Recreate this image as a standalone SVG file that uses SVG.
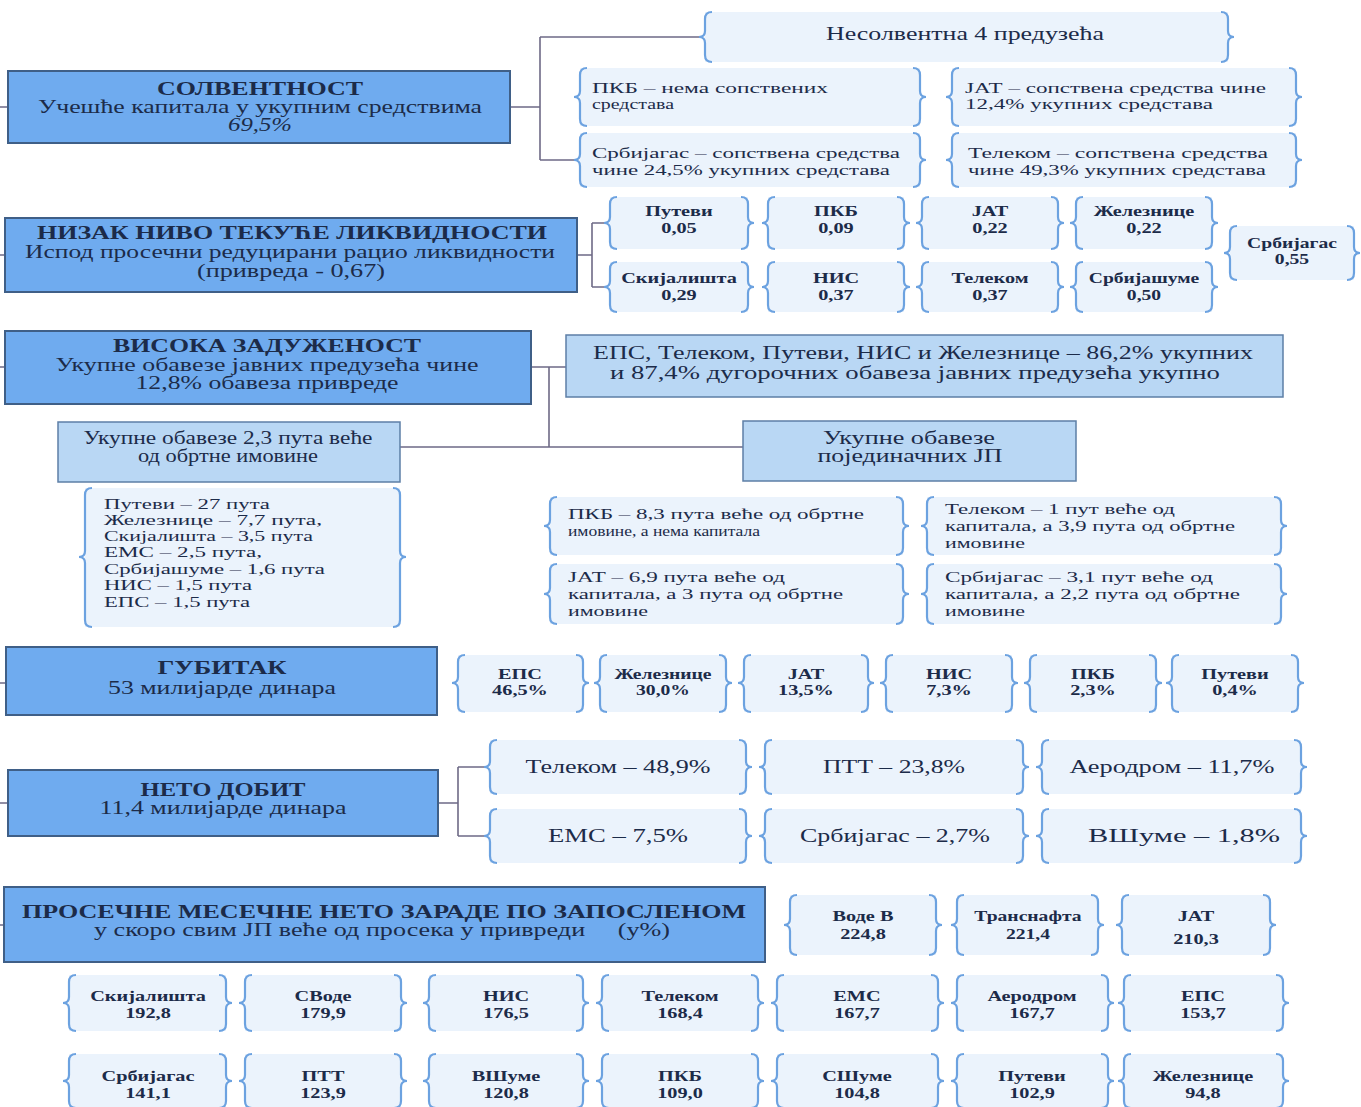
<svg xmlns="http://www.w3.org/2000/svg" width="1361" height="1107" viewBox="0 0 1361 1107">
<style>
.main{fill:#6FABEF;stroke:#3F5F87;stroke-width:2}
.sub{fill:#B9D7F4;stroke:#5D7FA6;stroke-width:1.5}
.bb{fill:#EBF3FC}
.br{fill:none;stroke:#6CA2E0;stroke-width:2.2}
.con{fill:none;stroke:#6E6A86;stroke-width:1.6}
text{font-family:"Liberation Serif","Times New Roman",serif;fill:#1C2B49}
.h{font-size:19px;font-weight:bold;text-anchor:middle}
.s{font-size:18px;text-anchor:middle}
.l{font-size:15px}
.v{font-size:14px;font-weight:bold;text-anchor:middle}
</style>
<rect width="1361" height="1107" fill="#FFFFFF"/>
<g id="connectors" class="con">
<path d="M0,107H8M0,255H5M0,367H5M0,683H6M0,803H8M0,925H4"/>
<path d="M510,107H540M540,37V160M540,37H699M540,160H574"/>
<path d="M577,255H592M592,223V287M592,223H604M592,287H604"/>
<path d="M531,367H566M549,367V447M400,447H743"/>
<path d="M438,803H458M458,767V836M458,767H484M458,836H484"/>
</g>
<g id="solventnost"><rect class="main" x="8" y="71" width="502" height="72"/>
<text class="h" x="260" y="95" textLength="206" lengthAdjust="spacingAndGlyphs">СОЛВЕНТНОСТ</text>
<text class="s" x="260" y="113" textLength="444" lengthAdjust="spacingAndGlyphs">Учешће капитала у укупним средствима</text>
<text class="s" x="260" y="131" font-style="italic" textLength="64" lengthAdjust="spacingAndGlyphs">69,5%</text></g>
<g id="nesolventna"><rect class="bb" x="705" y="12" width="523" height="50"/><path class="br" d="M712,12Q705,12 705,19V31Q705,37 699,37Q705,37 705,43V55Q705,62 712,62M1221,12Q1228,12 1228,19V31Q1228,37 1234,37Q1228,37 1228,43V55Q1228,62 1221,62"/>
<text class="s" x="965" y="40" font-size="17" textLength="278" lengthAdjust="spacingAndGlyphs">Несолвентна 4 предузећа</text></g>
<g id="pkb-solv"><rect class="bb" x="580" y="68" width="340" height="58"/><path class="br" d="M587,68Q580,68 580,75V91Q580,97 574,97Q580,97 580,103V119Q580,126 587,126M913,68Q920,68 920,75V91Q920,97 926,97Q920,97 920,103V119Q920,126 913,126"/>
<text class="l" x="592" y="93" textLength="236" lengthAdjust="spacingAndGlyphs">ПКБ – нема сопствених</text>
<text class="l" x="592" y="109" textLength="82" lengthAdjust="spacingAndGlyphs">средстава</text></g>
<g id="jat-solv"><rect class="bb" x="952" y="68" width="344" height="58"/><path class="br" d="M959,68Q952,68 952,75V91Q952,97 946,97Q952,97 952,103V119Q952,126 959,126M1289,68Q1296,68 1296,75V91Q1296,97 1302,97Q1296,97 1296,103V119Q1296,126 1289,126"/>
<text class="l" x="965" y="93" textLength="301" lengthAdjust="spacingAndGlyphs">ЈАТ – сопствена средства чине</text>
<text class="l" x="965" y="109" textLength="248" lengthAdjust="spacingAndGlyphs">12,4% укупних средстава</text></g>
<g id="srbijagas-solv"><rect class="bb" x="580" y="133" width="340" height="54"/><path class="br" d="M587,133Q580,133 580,140V154Q580,160 574,160Q580,160 580,166V180Q580,187 587,187M913,133Q920,133 920,140V154Q920,160 926,160Q920,160 920,166V180Q920,187 913,187"/>
<text class="l" x="592" y="158" textLength="308" lengthAdjust="spacingAndGlyphs">Србијагас – сопствена средства</text>
<text class="l" x="592" y="175" textLength="298" lengthAdjust="spacingAndGlyphs">чине 24,5% укупних средстава</text></g>
<g id="telekom-solv"><rect class="bb" x="952" y="133" width="344" height="54"/><path class="br" d="M959,133Q952,133 952,140V154Q952,160 946,160Q952,160 952,166V180Q952,187 959,187M1289,133Q1296,133 1296,140V154Q1296,160 1302,160Q1296,160 1296,166V180Q1296,187 1289,187"/>
<text class="l" x="968" y="158" textLength="300" lengthAdjust="spacingAndGlyphs">Телеком – сопствена средства</text>
<text class="l" x="968" y="175" textLength="298" lengthAdjust="spacingAndGlyphs">чине 49,3% укупних средстава</text></g>

<g id="likvidnost"><rect class="main" x="5" y="218" width="572" height="74"/>
<text class="h" x="292" y="239" textLength="510" lengthAdjust="spacingAndGlyphs">НИЗАК НИВО ТЕКУЋЕ ЛИКВИДНОСТИ</text>
<text class="s" x="290" y="258" textLength="530" lengthAdjust="spacingAndGlyphs">Испод просечни редуцирани рацио ликвидности</text>
<text class="s" x="291" y="277" textLength="188" lengthAdjust="spacingAndGlyphs">(привреда - 0,67)</text></g>
<g id="liq-putevi"><rect class="bb" x="610" y="197" width="138" height="52"/><path class="br" d="M617,197Q610,197 610,204V217Q610,223 604,223Q610,223 610,229V242Q610,249 617,249M741,197Q748,197 748,204V217Q748,223 754,223Q748,223 748,229V242Q748,249 741,249"/>
<g transform="matrix(1.45,0,0,1,-305.55,0)"><text class="v" x="679" y="216">Путеви</text><text class="v" x="679" y="233">0,05</text></g></g>
<g id="liq-pkb"><rect class="bb" x="768" y="197" width="136" height="52"/><path class="br" d="M775,197Q768,197 768,204V217Q768,223 762,223Q768,223 768,229V242Q768,249 775,249M897,197Q904,197 904,204V217Q904,223 910,223Q904,223 904,229V242Q904,249 897,249"/>
<g transform="matrix(1.45,0,0,1,-376.2,0)"><text class="v" x="836" y="216">ПКБ</text><text class="v" x="836" y="233">0,09</text></g></g>
<g id="liq-jat"><rect class="bb" x="922" y="197" width="136" height="52"/><path class="br" d="M929,197Q922,197 922,204V217Q922,223 916,223Q922,223 922,229V242Q922,249 929,249M1051,197Q1058,197 1058,204V217Q1058,223 1064,223Q1058,223 1058,229V242Q1058,249 1051,249"/>
<g transform="matrix(1.45,0,0,1,-445.5,0)"><text class="v" x="990" y="216">ЈАТ</text><text class="v" x="990" y="233">0,22</text></g></g>
<g id="liq-zeleznice"><rect class="bb" x="1076" y="197" width="136" height="52"/><path class="br" d="M1083,197Q1076,197 1076,204V217Q1076,223 1070,223Q1076,223 1076,229V242Q1076,249 1083,249M1205,197Q1212,197 1212,204V217Q1212,223 1218,223Q1212,223 1212,229V242Q1212,249 1205,249"/>
<g transform="matrix(1.45,0,0,1,-514.8,0)"><text class="v" x="1144" y="216">Железнице</text><text class="v" x="1144" y="233">0,22</text></g></g>
<g id="liq-skijalista"><rect class="bb" x="610" y="262" width="138" height="50"/><path class="br" d="M617,262Q610,262 610,269V281Q610,287 604,287Q610,287 610,293V305Q610,312 617,312M741,262Q748,262 748,269V281Q748,287 754,287Q748,287 748,293V305Q748,312 741,312"/>
<g transform="matrix(1.45,0,0,1,-305.55,0)"><text class="v" x="679" y="283">Скијалишта</text><text class="v" x="679" y="300">0,29</text></g></g>
<g id="liq-nis"><rect class="bb" x="768" y="262" width="136" height="50"/><path class="br" d="M775,262Q768,262 768,269V281Q768,287 762,287Q768,287 768,293V305Q768,312 775,312M897,262Q904,262 904,269V281Q904,287 910,287Q904,287 904,293V305Q904,312 897,312"/>
<g transform="matrix(1.45,0,0,1,-376.2,0)"><text class="v" x="836" y="283">НИС</text><text class="v" x="836" y="300">0,37</text></g></g>
<g id="liq-telekom"><rect class="bb" x="922" y="262" width="136" height="50"/><path class="br" d="M929,262Q922,262 922,269V281Q922,287 916,287Q922,287 922,293V305Q922,312 929,312M1051,262Q1058,262 1058,269V281Q1058,287 1064,287Q1058,287 1058,293V305Q1058,312 1051,312"/>
<g transform="matrix(1.45,0,0,1,-445.5,0)"><text class="v" x="990" y="283">Телеком</text><text class="v" x="990" y="300">0,37</text></g></g>
<g id="liq-srbijasume"><rect class="bb" x="1076" y="262" width="136" height="50"/><path class="br" d="M1083,262Q1076,262 1076,269V281Q1076,287 1070,287Q1076,287 1076,293V305Q1076,312 1083,312M1205,262Q1212,262 1212,269V281Q1212,287 1218,287Q1212,287 1212,293V305Q1212,312 1205,312"/>
<g transform="matrix(1.4,0,0,1,-457.6,0)"><text class="v" x="1144" y="283">Србијашуме</text><text class="v" x="1144" y="300">0,50</text></g></g>
<g id="liq-srbijagas"><rect class="bb" x="1230" y="226" width="124" height="54"/><path class="br" d="M1237,226Q1230,226 1230,233V247Q1230,253 1224,253Q1230,253 1230,259V273Q1230,280 1237,280M1347,226Q1354,226 1354,233V247Q1354,253 1360,253Q1354,253 1354,259V273Q1354,280 1347,280"/>
<g transform="matrix(1.4,0,0,1,-516.8,0)"><text class="v" x="1292" y="248">Србијагас</text><text class="v" x="1292" y="264">0,55</text></g></g>

<g id="zaduzenost"><rect class="main" x="5" y="331" width="526" height="73"/>
<text class="h" x="267" y="352" textLength="308" lengthAdjust="spacingAndGlyphs">ВИСОКА ЗАДУЖЕНОСТ</text>
<text class="s" x="267" y="371" textLength="423" lengthAdjust="spacingAndGlyphs">Укупне обавезе јавних предузећа чине</text>
<text class="s" x="267" y="389" textLength="263" lengthAdjust="spacingAndGlyphs">12,8% обавеза привреде</text></g>
<g id="eps-telekom"><rect class="sub" x="566" y="335" width="717" height="62"/>
<text class="s" x="923" y="359" textLength="660" lengthAdjust="spacingAndGlyphs">ЕПС, Телеком, Путеви, НИС и Железнице – 86,2% укупних</text>
<text class="s" x="915" y="379" textLength="610" lengthAdjust="spacingAndGlyphs">и 87,4% дугорочних обавеза јавних предузећа укупно</text></g>
<g id="obaveze-2-3"><rect class="sub" x="58" y="422" width="342" height="60"/>
<text class="s" x="228" y="444" textLength="289" lengthAdjust="spacingAndGlyphs">Укупне обавезе 2,3 пута веће</text>
<text class="s" x="228" y="462" textLength="180" lengthAdjust="spacingAndGlyphs">од обртне имовине</text></g>
<g id="obaveze-pojedinacnih"><rect class="sub" x="743" y="421" width="333" height="60"/>
<text class="s" x="909" y="444" textLength="172" lengthAdjust="spacingAndGlyphs">Укупне обавезе</text>
<text class="s" x="910" y="462" textLength="185" lengthAdjust="spacingAndGlyphs">појединачних ЈП</text></g>
<g id="lista-puta"><rect class="bb" x="85" y="488" width="315" height="139"/><path class="br" d="M92,488Q85,488 85,495V551Q85,557 79,557Q85,557 85,563V620Q85,627 92,627M393,488Q400,488 400,495V551Q400,557 406,557Q400,557 400,563V620Q400,627 393,627"/>
<text class="l" x="104" y="509" textLength="166" lengthAdjust="spacingAndGlyphs">Путеви – 27 пута</text>
<text class="l" x="104" y="525" textLength="218" lengthAdjust="spacingAndGlyphs">Железнице – 7,7 пута,</text>
<text class="l" x="104" y="541" textLength="209" lengthAdjust="spacingAndGlyphs">Скијалишта – 3,5 пута</text>
<text class="l" x="104" y="557" textLength="158" lengthAdjust="spacingAndGlyphs">ЕМС – 2,5 пута,</text>
<text class="l" x="104" y="574" textLength="221" lengthAdjust="spacingAndGlyphs">Србијашуме – 1,6 пута</text>
<text class="l" x="104" y="590" textLength="148" lengthAdjust="spacingAndGlyphs">НИС – 1,5 пута</text>
<text class="l" x="104" y="607" textLength="146" lengthAdjust="spacingAndGlyphs">ЕПС – 1,5 пута</text></g>
<g id="pkb-obaveze"><rect class="bb" x="550" y="497" width="353" height="58"/><path class="br" d="M557,497Q550,497 550,504V520Q550,526 544,526Q550,526 550,532V548Q550,555 557,555M896,497Q903,497 903,504V520Q903,526 909,526Q903,526 903,532V548Q903,555 896,555"/>
<text class="l" x="568" y="519" textLength="296" lengthAdjust="spacingAndGlyphs">ПКБ – 8,3 пута веће од обртне</text>
<text class="l" x="568" y="536" textLength="192" lengthAdjust="spacingAndGlyphs">имовине, а нема капитала</text></g>
<g id="telekom-obaveze"><rect class="bb" x="927" y="497" width="354" height="58"/><path class="br" d="M934,497Q927,497 927,504V520Q927,526 921,526Q927,526 927,532V548Q927,555 934,555M1274,497Q1281,497 1281,504V520Q1281,526 1287,526Q1281,526 1281,532V548Q1281,555 1274,555"/>
<text class="l" x="945" y="514" textLength="230" lengthAdjust="spacingAndGlyphs">Телеком – 1 пут веће од</text>
<text class="l" x="945" y="531" textLength="290" lengthAdjust="spacingAndGlyphs">капитала, а 3,9 пута од обртне</text>
<text class="l" x="945" y="548" textLength="80" lengthAdjust="spacingAndGlyphs">имовине</text></g>
<g id="jat-obaveze"><rect class="bb" x="550" y="564" width="353" height="60"/><path class="br" d="M557,564Q550,564 550,571V588Q550,594 544,594Q550,594 550,600V617Q550,624 557,624M896,564Q903,564 903,571V588Q903,594 909,594Q903,594 903,600V617Q903,624 896,624"/>
<text class="l" x="568" y="582" textLength="217" lengthAdjust="spacingAndGlyphs">ЈАТ – 6,9 пута веће од</text>
<text class="l" x="568" y="599" textLength="275" lengthAdjust="spacingAndGlyphs">капитала, а 3 пута од обртне</text>
<text class="l" x="568" y="616" textLength="80" lengthAdjust="spacingAndGlyphs">имовине</text></g>
<g id="srbijagas-obaveze"><rect class="bb" x="927" y="564" width="354" height="60"/><path class="br" d="M934,564Q927,564 927,571V588Q927,594 921,594Q927,594 927,600V617Q927,624 934,624M1274,564Q1281,564 1281,571V588Q1281,594 1287,594Q1281,594 1281,600V617Q1281,624 1274,624"/>
<text class="l" x="945" y="582" textLength="268" lengthAdjust="spacingAndGlyphs">Србијагас – 3,1 пут веће од</text>
<text class="l" x="945" y="599" textLength="295" lengthAdjust="spacingAndGlyphs">капитала, а 2,2 пута од обртне</text>
<text class="l" x="945" y="616" textLength="80" lengthAdjust="spacingAndGlyphs">имовине</text></g>

<g id="gubitak"><rect class="main" x="6" y="647" width="431" height="68"/>
<text class="h" x="222" y="674" textLength="129" lengthAdjust="spacingAndGlyphs">ГУБИТАК</text>
<text class="s" x="222" y="694" textLength="228" lengthAdjust="spacingAndGlyphs">53 милијарде динара</text></g>
<g id="gub-eps"><rect class="bb" x="458" y="655" width="125" height="57"/><path class="br" d="M465,655Q458,655 458,662V677Q458,683 452,683Q458,683 458,689V705Q458,712 465,712M576,655Q583,655 583,662V677Q583,683 589,683Q583,683 583,689V705Q583,712 576,712"/>
<g transform="matrix(1.45,0,0,1,-234,0)"><text class="v" x="520" y="679">ЕПС</text><text class="v" x="520" y="695">46,5%</text></g></g>
<g id="gub-zeleznice"><rect class="bb" x="600" y="655" width="126" height="57"/><path class="br" d="M607,655Q600,655 600,662V677Q600,683 594,683Q600,683 600,689V705Q600,712 607,712M719,655Q726,655 726,662V677Q726,683 732,683Q726,683 726,689V705Q726,712 719,712"/>
<g transform="matrix(1.4,0,0,1,-265.2,0)"><text class="v" x="663" y="679">Железнице</text><text class="v" x="663" y="695">30,0%</text></g></g>
<g id="gub-jat"><rect class="bb" x="744" y="655" width="124" height="57"/><path class="br" d="M751,655Q744,655 744,662V677Q744,683 738,683Q744,683 744,689V705Q744,712 751,712M861,655Q868,655 868,662V677Q868,683 874,683Q868,683 868,689V705Q868,712 861,712"/>
<g transform="matrix(1.45,0,0,1,-362.7,0)"><text class="v" x="806" y="679">ЈАТ</text><text class="v" x="806" y="695">13,5%</text></g></g>
<g id="gub-nis"><rect class="bb" x="886" y="655" width="126" height="57"/><path class="br" d="M893,655Q886,655 886,662V677Q886,683 880,683Q886,683 886,689V705Q886,712 893,712M1005,655Q1012,655 1012,662V677Q1012,683 1018,683Q1012,683 1012,689V705Q1012,712 1005,712"/>
<g transform="matrix(1.45,0,0,1,-427.05,0)"><text class="v" x="949" y="679">НИС</text><text class="v" x="949" y="695">7,3%</text></g></g>
<g id="gub-pkb"><rect class="bb" x="1030" y="655" width="126" height="57"/><path class="br" d="M1037,655Q1030,655 1030,662V677Q1030,683 1024,683Q1030,683 1030,689V705Q1030,712 1037,712M1149,655Q1156,655 1156,662V677Q1156,683 1162,683Q1156,683 1156,689V705Q1156,712 1149,712"/>
<g transform="matrix(1.45,0,0,1,-491.85,0)"><text class="v" x="1093" y="679">ПКБ</text><text class="v" x="1093" y="695">2,3%</text></g></g>
<g id="gub-putevi"><rect class="bb" x="1172" y="655" width="126" height="57"/><path class="br" d="M1179,655Q1172,655 1172,662V677Q1172,683 1166,683Q1172,683 1172,689V705Q1172,712 1179,712M1291,655Q1298,655 1298,662V677Q1298,683 1304,683Q1298,683 1298,689V705Q1298,712 1291,712"/>
<g transform="matrix(1.45,0,0,1,-555.75,0)"><text class="v" x="1235" y="679">Путеви</text><text class="v" x="1235" y="695">0,4%</text></g></g>

<g id="neto-dobit"><rect class="main" x="8" y="770" width="430" height="66"/>
<text class="h" x="223" y="796" textLength="165" lengthAdjust="spacingAndGlyphs">НЕТО ДОБИТ</text>
<text class="s" x="223" y="814" textLength="247" lengthAdjust="spacingAndGlyphs">11,4 милијарде динара</text></g>
<g id="dob-telekom"><rect class="bb" x="490" y="740" width="256" height="54"/><path class="br" d="M497,740Q490,740 490,747V761Q490,767 484,767Q490,767 490,773V787Q490,794 497,794M739,740Q746,740 746,747V761Q746,767 752,767Q746,767 746,773V787Q746,794 739,794"/>
<text class="s" x="618" y="773" textLength="185" lengthAdjust="spacingAndGlyphs">Телеком – 48,9%</text></g>
<g id="dob-ptt"><rect class="bb" x="765" y="740" width="258" height="54"/><path class="br" d="M772,740Q765,740 765,747V761Q765,767 759,767Q765,767 765,773V787Q765,794 772,794M1016,740Q1023,740 1023,747V761Q1023,767 1029,767Q1023,767 1023,773V787Q1023,794 1016,794"/>
<text class="s" x="894" y="773" textLength="142" lengthAdjust="spacingAndGlyphs">ПТТ – 23,8%</text></g>
<g id="dob-aerodrom"><rect class="bb" x="1042" y="740" width="259" height="54"/><path class="br" d="M1049,740Q1042,740 1042,747V761Q1042,767 1036,767Q1042,767 1042,773V787Q1042,794 1049,794M1294,740Q1301,740 1301,747V761Q1301,767 1307,767Q1301,767 1301,773V787Q1301,794 1294,794"/>
<text class="s" x="1172" y="773" textLength="205" lengthAdjust="spacingAndGlyphs">Аеродром – 11,7%</text></g>
<g id="dob-ems"><rect class="bb" x="490" y="809" width="256" height="54"/><path class="br" d="M497,809Q490,809 490,816V830Q490,836 484,836Q490,836 490,842V856Q490,863 497,863M739,809Q746,809 746,816V830Q746,836 752,836Q746,836 746,842V856Q746,863 739,863"/>
<text class="s" x="618" y="842" textLength="140" lengthAdjust="spacingAndGlyphs">ЕМС – 7,5%</text></g>
<g id="dob-srbijagas"><rect class="bb" x="765" y="809" width="258" height="54"/><path class="br" d="M772,809Q765,809 765,816V830Q765,836 759,836Q765,836 765,842V856Q765,863 772,863M1016,809Q1023,809 1023,816V830Q1023,836 1029,836Q1023,836 1023,842V856Q1023,863 1016,863"/>
<text class="s" x="895" y="842" textLength="190" lengthAdjust="spacingAndGlyphs">Србијагас – 2,7%</text></g>
<g id="dob-vsume"><rect class="bb" x="1042" y="809" width="259" height="54"/><path class="br" d="M1049,809Q1042,809 1042,816V830Q1042,836 1036,836Q1042,836 1042,842V856Q1042,863 1049,863M1294,809Q1301,809 1301,816V830Q1301,836 1307,836Q1301,836 1301,842V856Q1301,863 1294,863"/>
<text class="s" x="1184" y="842" textLength="192" lengthAdjust="spacingAndGlyphs">ВШуме – 1,8%</text></g>

<g id="zarade"><rect class="main" x="4" y="887" width="761" height="75"/>
<text class="h" x="384" y="918" textLength="724" lengthAdjust="spacingAndGlyphs">ПРОСЕЧНЕ МЕСЕЧНЕ НЕТО ЗАРАДЕ ПО ЗАПОСЛЕНОМ</text>
<text class="s" x="382" y="936" textLength="576" lengthAdjust="spacingAndGlyphs" xml:space="preserve">у скоро свим ЈП веће од просека у привреди     (у%)</text></g>
<g id="z-vodeb"><rect class="bb" x="790" y="895" width="146" height="60"/><path class="br" d="M797,895Q790,895 790,902V919Q790,925 784,925Q790,925 790,931V948Q790,955 797,955M929,895Q936,895 936,902V919Q936,925 942,925Q936,925 936,931V948Q936,955 929,955"/>
<g transform="matrix(1.45,0,0,1,-388.35,0)"><text class="v" x="863" y="921">Воде В</text><text class="v" x="863" y="939">224,8</text></g></g>
<g id="z-transnafta"><rect class="bb" x="957" y="895" width="141" height="60"/><path class="br" d="M964,895Q957,895 957,902V919Q957,925 951,925Q957,925 957,931V948Q957,955 964,955M1091,895Q1098,895 1098,902V919Q1098,925 1104,925Q1098,925 1098,931V948Q1098,955 1091,955"/>
<g transform="matrix(1.4,0,0,1,-411.2,0)"><text class="v" x="1028" y="921">Транснафта</text><text class="v" x="1028" y="939">221,4</text></g></g>
<g id="z-jat"><rect class="bb" x="1122" y="895" width="148" height="60"/><path class="br" d="M1129,895Q1122,895 1122,902V919Q1122,925 1116,925Q1122,925 1122,931V948Q1122,955 1129,955M1263,895Q1270,895 1270,902V919Q1270,925 1276,925Q1270,925 1270,931V948Q1270,955 1263,955"/>
<g transform="matrix(1.45,0,0,1,-538.2,0)"><text class="v" x="1196" y="921">ЈАТ</text><text class="v" x="1196" y="944">210,3</text></g></g>

<g id="z-skijalista"><rect class="bb" x="69" y="975" width="157" height="56"/><path class="br" d="M76,975Q69,975 69,982V997Q69,1003 63,1003Q69,1003 69,1009V1024Q69,1031 76,1031M219,975Q226,975 226,982V997Q226,1003 232,1003Q226,1003 226,1009V1024Q226,1031 219,1031"/>
<g transform="matrix(1.45,0,0,1,-66.6,0)"><text class="v" x="148" y="1001">Скијалишта</text><text class="v" x="148" y="1018">192,8</text></g></g>
<g id="z-svode"><rect class="bb" x="245" y="975" width="156" height="56"/><path class="br" d="M252,975Q245,975 245,982V997Q245,1003 239,1003Q245,1003 245,1009V1024Q245,1031 252,1031M394,975Q401,975 401,982V997Q401,1003 407,1003Q401,1003 401,1009V1024Q401,1031 394,1031"/>
<g transform="matrix(1.45,0,0,1,-145.35,0)"><text class="v" x="323" y="1001">СВоде</text><text class="v" x="323" y="1018">179,9</text></g></g>
<g id="z-nis"><rect class="bb" x="429" y="975" width="154" height="56"/><path class="br" d="M436,975Q429,975 429,982V997Q429,1003 423,1003Q429,1003 429,1009V1024Q429,1031 436,1031M576,975Q583,975 583,982V997Q583,1003 589,1003Q583,1003 583,1009V1024Q583,1031 576,1031"/>
<g transform="matrix(1.45,0,0,1,-227.7,0)"><text class="v" x="506" y="1001">НИС</text><text class="v" x="506" y="1018">176,5</text></g></g>
<g id="z-telekom"><rect class="bb" x="602" y="975" width="156" height="56"/><path class="br" d="M609,975Q602,975 602,982V997Q602,1003 596,1003Q602,1003 602,1009V1024Q602,1031 609,1031M751,975Q758,975 758,982V997Q758,1003 764,1003Q758,1003 758,1009V1024Q758,1031 751,1031"/>
<g transform="matrix(1.45,0,0,1,-306,0)"><text class="v" x="680" y="1001">Телеком</text><text class="v" x="680" y="1018">168,4</text></g></g>
<g id="z-ems"><rect class="bb" x="777" y="975" width="161" height="56"/><path class="br" d="M784,975Q777,975 777,982V997Q777,1003 771,1003Q777,1003 777,1009V1024Q777,1031 784,1031M931,975Q938,975 938,982V997Q938,1003 944,1003Q938,1003 938,1009V1024Q938,1031 931,1031"/>
<g transform="matrix(1.45,0,0,1,-385.65,0)"><text class="v" x="857" y="1001">ЕМС</text><text class="v" x="857" y="1018">167,7</text></g></g>
<g id="z-aerodrom"><rect class="bb" x="957" y="975" width="151" height="56"/><path class="br" d="M964,975Q957,975 957,982V997Q957,1003 951,1003Q957,1003 957,1009V1024Q957,1031 964,1031M1101,975Q1108,975 1108,982V997Q1108,1003 1114,1003Q1108,1003 1108,1009V1024Q1108,1031 1101,1031"/>
<g transform="matrix(1.45,0,0,1,-464.4,0)"><text class="v" x="1032" y="1001">Аеродром</text><text class="v" x="1032" y="1018">167,7</text></g></g>
<g id="z-eps"><rect class="bb" x="1124" y="975" width="159" height="56"/><path class="br" d="M1131,975Q1124,975 1124,982V997Q1124,1003 1118,1003Q1124,1003 1124,1009V1024Q1124,1031 1131,1031M1276,975Q1283,975 1283,982V997Q1283,1003 1289,1003Q1283,1003 1283,1009V1024Q1283,1031 1276,1031"/>
<g transform="matrix(1.45,0,0,1,-541.35,0)"><text class="v" x="1203" y="1001">ЕПС</text><text class="v" x="1203" y="1018">153,7</text></g></g>

<g id="z-srbijagas"><rect class="bb" x="69" y="1054" width="157" height="54"/><path class="br" d="M76,1054Q69,1054 69,1061V1075Q69,1081 63,1081Q69,1081 69,1087V1101Q69,1108 76,1108M219,1054Q226,1054 226,1061V1075Q226,1081 232,1081Q226,1081 226,1087V1101Q226,1108 219,1108"/>
<g transform="matrix(1.45,0,0,1,-66.6,0)"><text class="v" x="148" y="1081">Србијагас</text><text class="v" x="148" y="1098">141,1</text></g></g>
<g id="z-ptt"><rect class="bb" x="245" y="1054" width="156" height="54"/><path class="br" d="M252,1054Q245,1054 245,1061V1075Q245,1081 239,1081Q245,1081 245,1087V1101Q245,1108 252,1108M394,1054Q401,1054 401,1061V1075Q401,1081 407,1081Q401,1081 401,1087V1101Q401,1108 394,1108"/>
<g transform="matrix(1.45,0,0,1,-145.35,0)"><text class="v" x="323" y="1081">ПТТ</text><text class="v" x="323" y="1098">123,9</text></g></g>
<g id="z-vsume"><rect class="bb" x="429" y="1054" width="154" height="54"/><path class="br" d="M436,1054Q429,1054 429,1061V1075Q429,1081 423,1081Q429,1081 429,1087V1101Q429,1108 436,1108M576,1054Q583,1054 583,1061V1075Q583,1081 589,1081Q583,1081 583,1087V1101Q583,1108 576,1108"/>
<g transform="matrix(1.45,0,0,1,-227.7,0)"><text class="v" x="506" y="1081">ВШуме</text><text class="v" x="506" y="1098">120,8</text></g></g>
<g id="z-pkb"><rect class="bb" x="602" y="1054" width="156" height="54"/><path class="br" d="M609,1054Q602,1054 602,1061V1075Q602,1081 596,1081Q602,1081 602,1087V1101Q602,1108 609,1108M751,1054Q758,1054 758,1061V1075Q758,1081 764,1081Q758,1081 758,1087V1101Q758,1108 751,1108"/>
<g transform="matrix(1.45,0,0,1,-306,0)"><text class="v" x="680" y="1081">ПКБ</text><text class="v" x="680" y="1098">109,0</text></g></g>
<g id="z-ssume"><rect class="bb" x="777" y="1054" width="161" height="54"/><path class="br" d="M784,1054Q777,1054 777,1061V1075Q777,1081 771,1081Q777,1081 777,1087V1101Q777,1108 784,1108M931,1054Q938,1054 938,1061V1075Q938,1081 944,1081Q938,1081 938,1087V1101Q938,1108 931,1108"/>
<g transform="matrix(1.45,0,0,1,-385.65,0)"><text class="v" x="857" y="1081">СШуме</text><text class="v" x="857" y="1098">104,8</text></g></g>
<g id="z-putevi"><rect class="bb" x="957" y="1054" width="151" height="54"/><path class="br" d="M964,1054Q957,1054 957,1061V1075Q957,1081 951,1081Q957,1081 957,1087V1101Q957,1108 964,1108M1101,1054Q1108,1054 1108,1061V1075Q1108,1081 1114,1081Q1108,1081 1108,1087V1101Q1108,1108 1101,1108"/>
<g transform="matrix(1.45,0,0,1,-464.4,0)"><text class="v" x="1032" y="1081">Путеви</text><text class="v" x="1032" y="1098">102,9</text></g></g>
<g id="z-zeleznice"><rect class="bb" x="1124" y="1054" width="159" height="54"/><path class="br" d="M1131,1054Q1124,1054 1124,1061V1075Q1124,1081 1118,1081Q1124,1081 1124,1087V1101Q1124,1108 1131,1108M1276,1054Q1283,1054 1283,1061V1075Q1283,1081 1289,1081Q1283,1081 1283,1087V1101Q1283,1108 1276,1108"/>
<g transform="matrix(1.45,0,0,1,-541.35,0)"><text class="v" x="1203" y="1081">Железнице</text><text class="v" x="1203" y="1098">94,8</text></g></g>
</svg>
